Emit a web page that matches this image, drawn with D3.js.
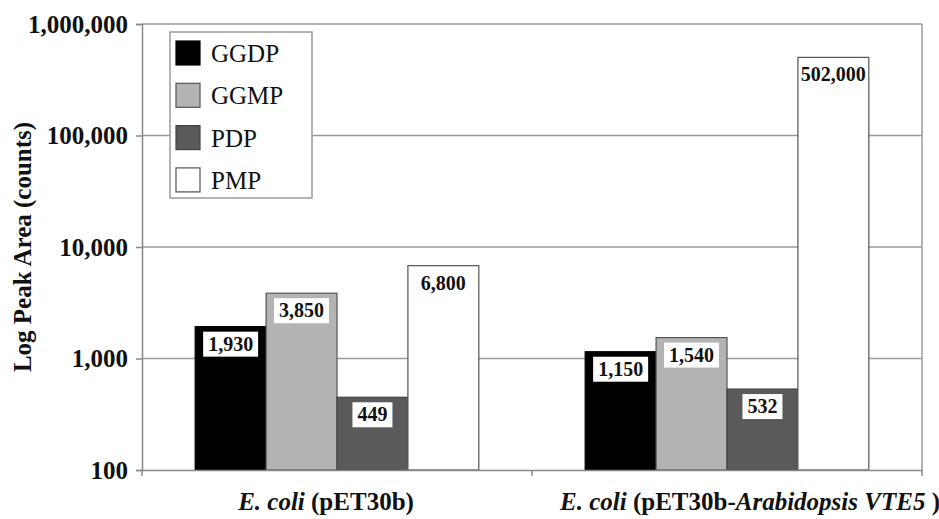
<!DOCTYPE html>
<html>
<head>
<meta charset="UTF-8">
<style>
body { margin: 0; background: white; }
text { font-family: "Liberation Serif", "Times New Roman", serif; }
</style>
</head>
<body>
<script src="https://d3js.org/d3.v7.min.js"></script>
<script>

// data
var categories = ['pET30b', 'VTE5']
    series = ['GGDP', 'GGMP', 'PDP', 'PMP']
    ggdp = [1930, 1150]
    ggmp = [3850, 1540]
    pdp = [449, 532]
    pmp = [6800, 502000]
    yTicks = [100, 1000, 10000, 100000, 1000000]

var values = [ggdp, ggmp, pdp, pmp]
    colors = {'GGDP': '#000000', 'GGMP': '#b3b3b3', 'PDP': '#5a5a5a', 'PMP': '#ffffff'}
    strokes = {'GGDP': '#000000', 'GGMP': '#555555', 'PDP': '#444444', 'PMP': '#555555'}

var dataset = []
categories.forEach(function(c, ci) {
  series.forEach(function(s, si) {
    dataset.push({cat: c, key: s, value: values[si][ci]});
  });
});

// canvas
var svgWidth = 939
    svgHeight = 519
    margin = {top: 24, bottom: 49, left: 142, right: 17}

var svg = d3.select('body').append('svg')
    .attr('width', svgWidth)
    .attr('height', svgHeight)

var yScale = d3.scaleLog()
    .domain([100, 1000000])
    .range([svgHeight - margin.bottom, margin.top])

var x0 = d3.scaleBand()
    .domain(categories)
    .range([margin.left, svgWidth - margin.right])
    .padding(0)

var x1 = d3.scaleBand()
    .domain(series)
    .range([0, x0.bandwidth()])
    .paddingInner(0)
    .paddingOuter(0.75)

var fmt = d3.format(',')

// gridlines
svg.append('g').selectAll('line')
  .data(yTicks.slice(1))
  .enter().append('line')
    .attr('x1', margin.left).attr('x2', svgWidth - margin.right)
    .attr('y1', d => yScale(d)).attr('y2', d => yScale(d))
    .attr('stroke', '#9a9a9a').attr('stroke-width', 1.5)

// right border
svg.append('line')
    .attr('x1', svgWidth - margin.right).attr('x2', svgWidth - margin.right)
    .attr('y1', margin.top).attr('y2', svgHeight - margin.bottom)
    .attr('stroke', '#9a9a9a').attr('stroke-width', 1.5)

// y axis
var yAxis = d3.axisLeft(yScale)
    .tickValues(yTicks)
    .tickFormat(fmt)
    .tickSize(6)
    .tickPadding(8)

var yg = svg.append('g')
    .attr('transform', 'translate(' + margin.left + ',0)')
    .call(yAxis)
yg.select('.domain').attr('stroke', '#888').attr('stroke-width', 1.5)
yg.selectAll('.tick line').attr('stroke', '#888').attr('stroke-width', 1.5)
yg.selectAll('text')
    .attr('font-family', '"Liberation Serif", serif')
    .attr('font-size', 25)
    .attr('font-weight', 'bold')
    .attr('fill', '#111')

// bars
var bars = svg.append('g').selectAll('rect')
  .data(dataset)
  .enter().append('rect')
    .attr('x', d => x0(d.cat) + x1(d.key))
    .attr('y', d => yScale(d.value))
    .attr('width', x1.bandwidth())
    .attr('height', d => yScale(100) - yScale(d.value))
    .attr('fill', d => colors[d.key])
    .attr('stroke', d => strokes[d.key])
    .attr('stroke-width', 1.2)

// x axis
var xAxis = d3.axisBottom(x0).tickSize(0).tickFormat('')
var xg = svg.append('g')
    .attr('transform', 'translate(0,' + (svgHeight - margin.bottom) + ')')
    .call(xAxis)
xg.select('.domain').attr('stroke', '#888').attr('stroke-width', 1.5)
xg.selectAll('.bound')
  .data([x0.range()[0], x0(categories[1]), x0.range()[1]])
  .enter().append('line')
    .attr('class', 'bound')
    .attr('x1', d => d).attr('x2', d => d)
    .attr('y1', 0).attr('y2', 6)
    .attr('stroke', '#888').attr('stroke-width', 1.5)

// value labels
var labels = svg.append('g').selectAll('g')
  .data(dataset)
  .enter().append('g')
    .attr('transform', d => 'translate(' + (x0(d.cat) + x1(d.key) + x1.bandwidth() / 2) + ','
                                    + (yScale(d.value) + 5) + ')')

labels.append('text')
    .attr('text-anchor', 'middle')
    .attr('y', 19)
    .attr('font-size', 20)
    .attr('font-weight', 'bold')
    .attr('fill', '#111')
    .text(d => fmt(d.value))

labels.each(function() {
  var g = d3.select(this)
  var bb = g.select('text').node().getBBox()
  var w = Math.min(bb.width + 10, x1.bandwidth() - 3)
  g.insert('rect', 'text')
    .attr('x', -w / 2).attr('y', 0)
    .attr('width', w).attr('height', 25)
    .attr('fill', 'white')
})

// category labels
var catOffsets = [-11, 23]
var catText = svg.append('g').selectAll('text')
  .data(categories)
  .enter().append('text')
    .attr('x', (d, i) => x0(d) + x0.bandwidth() / 2 + catOffsets[i])
    .attr('y', 510)
    .attr('text-anchor', 'middle')
    .attr('font-size', 25)
    .attr('font-weight', 'bold')
    .attr('fill', '#111')

catText.each(function(d) {
  var t = d3.select(this)
  t.append('tspan').attr('font-style', 'italic').text('E. coli')
  if (d == 'pET30b') {
    t.append('tspan').text(' (pET30b)')
  } else {
    t.append('tspan').text(' (pET30b-')
    t.append('tspan').attr('font-style', 'italic').text('Arabidopsis VTE5')
    t.append('tspan').text(' )')
  }
})

// y title
svg.append('text')
    .attr('transform', 'translate(31,' + ((margin.top + svgHeight - margin.bottom) / 2) + ') rotate(-90)')
    .attr('text-anchor', 'middle')
    .attr('font-size', 25)
    .attr('font-weight', 'bold')
    .attr('fill', '#111')
    .text('Log Peak Area (counts)')

// legend
var legend = svg.append('g')
legend.append('rect')
    .attr('x', 170).attr('y', 32)
    .attr('width', 142).attr('height', 166)
    .attr('fill', 'white')
    .attr('stroke', '#9a9a9a').attr('stroke-width', 1.5)

var items = legend.selectAll('.item')
  .data(series)
  .enter().append('g')
    .attr('class', 'item')
    .attr('transform', (d, i) => 'translate(176,' + (41 + i * 42.3) + ')')

items.append('rect')
    .attr('width', 24).attr('height', 24)
    .attr('fill', d => colors[d])
    .attr('stroke', d => strokes[d])
    .attr('stroke-width', 1.2)

items.append('text')
    .attr('x', 35).attr('y', 21)
    .attr('font-size', 25)
    .attr('fill', '#111')
    .text(d => d)

</script>
</body>
</html>
